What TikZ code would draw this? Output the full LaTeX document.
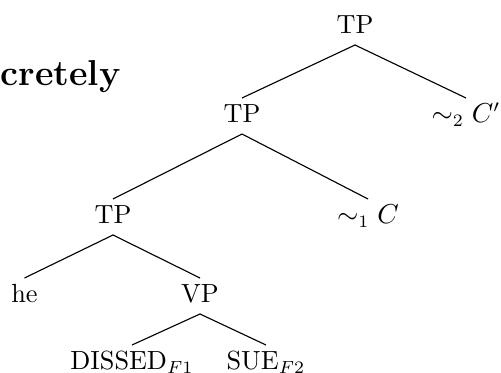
\documentclass[tikz,border=0pt]{standalone}
\begin{document}
\begin{tikzpicture}[x=0.4pt,y=-0.4pt,
  tn/.style={anchor=base, font=\fontsize{10.5}{12.6}\selectfont, text height=7.2pt, text depth=2.4pt, inner xsep=1pt, inner ysep=2.2pt},
  br/.style={line width=0.45pt}]
\useasboundingbox (0,0) rectangle (501,373);
\node[anchor=base west, inner sep=0pt, font=\Large\bfseries] (title) at (0,85) {cretely};
\node[tn] (tp1) at (355,33) {TP};
\node[tn] (tp2) at (242,122) {TP};
\node[tn] (c2) at (466,122) {$\sim_2 C'$};
\node[tn] (tp3) at (113,223) {TP};
\node[tn] (c1) at (368,223) {$\sim_1 C$};
\node[tn] (he) at (24.5,302) {he};
\node[tn] (vp) at (200,302) {VP};
\node[tn] (dis) at (132,369) {DISSED$_{F1}$};
\node[tn] (sue) at (266,369) {SUE$_{F2}$};
\draw[br] (tp1.south) -- (tp2.north);
\draw[br] (tp1.south) -- (c2.north);
\draw[br] (tp2.south) -- (tp3.north);
\draw[br] (tp2.south) -- (c1.north);
\draw[br] (tp3.south) -- (he.north);
\draw[br] (tp3.south) -- (vp.north);
\draw[br] (vp.south) -- (dis.north);
\draw[br] (vp.south) -- (sue.north);
\end{tikzpicture}
\end{document}
